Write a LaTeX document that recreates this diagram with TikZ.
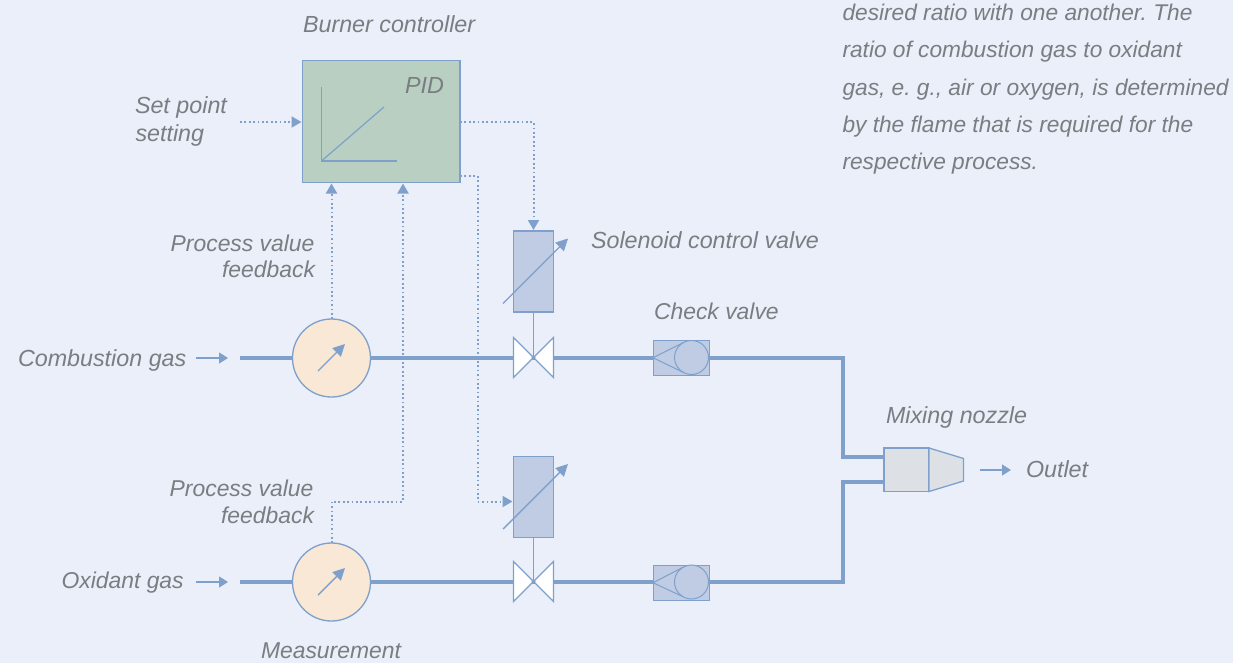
\documentclass[tikz,border=0pt]{standalone}
\usepackage{fontspec}
\setmainfont{Liberation Sans}
\usetikzlibrary{arrows.meta,calc}
\definecolor{bgc}{HTML}{EAEFF9}
\definecolor{linec}{HTML}{7FA0CB}
\definecolor{greenc}{HTML}{B8CFC2}
\definecolor{bluec}{HTML}{BFCCE3}
\definecolor{orangec}{HTML}{F9E8D5}
\definecolor{txtc}{HTML}{7A7D81}
\definecolor{grayc}{HTML}{DDE1E5}
\tikzset{
  lbl/.style={font=\fontsize{23.3}{28}\selectfont\itshape,text=txtc,inner sep=0,outer sep=0},
  lblb/.style={font=\fontsize{22.9}{28}\selectfont\itshape,text=txtc,inner sep=0,outer sep=0},
  para/.style={font=\fontsize{22.7}{28}\selectfont\itshape\frenchspacing,text=txtc,inner sep=0,outer sep=0},
  box/.style={draw=linec,line width=1.3pt,inner sep=0,outer sep=0,rectangle},
  ctrlbox/.style={box,fill=greenc,minimum width=157.5pt,minimum height=122pt},
  actbox/.style={box,fill=bluec,minimum width=40pt,minimum height=81pt},
  chkbox/.style={box,fill=bluec,line width=1pt,minimum width=56pt,minimum height=34.5pt},
  meter/.style={draw=linec,line width=1.3pt,fill=orangec,circle,inner sep=0,outer sep=0,minimum size=78pt},
  chkball/.style={draw=linec,line width=1pt,fill=bluec,circle,inner sep=0,outer sep=0,minimum size=34pt},
  thin line/.style={draw=linec,line width=1.2pt},
  pipe/.style={draw=linec,line width=4pt,line join=miter},
  sig/.style={draw=linec,line width=2pt,dash pattern=on 1.7pt off 2.7pt},
  tip/.style={-{Triangle[length=10pt,width=11pt,fill=linec]}},
  ptr/.style={thin line,line width=1.4pt,-{Triangle[length=12pt,width=12pt,fill=linec]}},
  flow/.style={thin line,-{Triangle[length=9pt,width=11pt,fill=linec]}},
  valvefill/.style={draw=linec,line width=1.2pt,fill=white,line join=miter},
  nozzle/.style={draw=linec,line width=1.3pt,fill=grayc,line join=miter},
}
\begin{document}
\begin{tikzpicture}[x=1pt,y=-1pt]
\useasboundingbox (0,0) rectangle (1233,663);
\fill[bgc] (0,0) rectangle (1233,663);

% named anchors
\coordinate (inA) at (240,357.5);
\coordinate (inB) at (240,581.5);
\coordinate (setp) at (240,122);
\coordinate (bendA) at (843,357.5);
\coordinate (bendB) at (843,581.5);
\coordinate (nozA) at (884,457);
\coordinate (nozB) at (884,482);
\coordinate (j1) at (533.5,122);
\coordinate (j2) at (477.5,176);
\coordinate (j3) at (477.5,501.5);
\coordinate (j4) at (331.5,501.5);
\coordinate (j5) at (403,501.5);
\coordinate (c2) at (403,182.5);
\coordinate (ctrlR2) at (460,176);
\coordinate (ctrlL) at (302.5,122);
\coordinate (ctrlR1) at (460,122);

% pipes
\draw[pipe] (inA) -- (bendA) -- (bendA |- nozA) -- (nozA);
\draw[pipe] (inB) -- (bendB) -- (bendB |- nozB) -- (nozB);

% nodes
\node[ctrlbox] (ctrl) at (381.25,121.5) {};
\node[meter] (m1) at (331.5,358) {};
\node[meter] (m2) at (331.5,582) {};
\node[actbox] (a1) at (533.5,271.5) {};
\node[actbox] (a2) at (533.5,497) {};
\node[chkbox] (k1) at (681,357.75) {};
\node[chkbox] (k2) at (681,582.75) {};

% PID graph
\coordinate (gO) at (321.5,161);
\draw[thin line] (321.5,87) -- (gO) -- (397,161);
\draw[thin line] (gO) -- (384,107);

% signal connectors
\draw[sig,tip,shorten >=1pt] (setp) -- (ctrlL);
\draw[sig,tip,shorten >=1pt] (ctrlR1) -- (j1) -- (a1.north);
\draw[sig,tip,shorten >=1pt] (ctrlR2) -- (j2) -- (j3) -- (a2.west |- j3);
\draw[sig,tip,shorten >=1pt] (m1.north) -- (m1.north |- ctrl.south);
\draw[sig,tip,shorten >=1pt] (m2.north) -- (j4) -- (j5) -- (c2);

% stems
\coordinate (v1) at (533.5,357.5);
\coordinate (v2) at (533.5,581.5);
% valves
\draw[valvefill] (v1) -- (513.5,337.5) -- (513.5,377.5) -- cycle;
\draw[valvefill] (v1) -- (553.5,337.5) -- (553.5,377.5) -- cycle;
\draw[valvefill] (v2) -- (513.5,561.5) -- (513.5,601.5) -- cycle;
\draw[valvefill] (v2) -- (553.5,561.5) -- (553.5,601.5) -- cycle;
\draw[thin line] (a1.south) -- (v1);
\draw[thin line] (a2.south) -- (v2);
\fill[linec] (v1) circle (2pt);
\fill[linec] (v2) circle (2pt);

% actuator adjust arrows
\draw[ptr] (503,303.5) -- (568,238.5);
\draw[ptr] (503,529) -- (568,464);
% meter pointers
\draw[ptr] (318,371) -- (345,344);
\draw[ptr] (318,595) -- (345,568);

% check valves
\node[chkball] (b1) at (691.5,357.5) {};
\node[chkball] (b2) at (691.5,582) {};
\draw[thin line,line width=1pt] (b1.120) -- (k1.west) -- (b1.240);
\draw[thin line,line width=1pt] (b2.120) -- (k2.west) -- (b2.240);

% nozzle
\draw[nozzle] (884,448) rectangle (929,491.5);
\draw[nozzle] (929,448) -- (963.5,458.5) -- (963.5,481) -- (929,491.5) -- cycle;

% flow arrows
\coordinate (f1a) at (196,358); \coordinate (f1b) at (228,358);
\coordinate (f2a) at (196,582); \coordinate (f2b) at (228,582);
\coordinate (f3a) at (980,470); \coordinate (f3b) at (1011,470);
\draw[flow] (f1a) -- (f1b);
\draw[flow] (f2a) -- (f2b);
\draw[flow] (f3a) -- (f3b);

% labels
\node[lbl,anchor=base west] (tBurner) at (303,32.7) {Burner controller};
\node[lbl,anchor=base east] (tPID) at (444,93.5) {PID};
\node[lbl,anchor=base west] (tSet1) at (135,114) {Set point};
\node[lbl,anchor=base west] (tSet2) at (135.5,141.7) {setting};
\node[lblb,anchor=base east] (tPv1) at (314.5,251) {Process value};
\node[lblb,anchor=base east] (tPv2) at (315,277) {feedback};
\node[lblb,anchor=base east] (tPv3) at (313.5,496) {Process value};
\node[lblb,anchor=base east] (tPv4) at (314,523) {feedback};
\node[lbl,anchor=base west] (tSol) at (591,248) {Solenoid control valve};
\node[lblb,anchor=base west] (tChk) at (654,319) {Check valve};
\node[lbl,anchor=base west] (tMix) at (886,423) {Mixing nozzle};
\node[lbl,anchor=base west] (tOut) at (1026,477) {Outlet};
\node[lbl,anchor=base west] (tCmb) at (18,366) {Combustion gas};
\node[lblb,anchor=base west] (tOxi) at (61.5,588.5) {Oxidant gas};
\node[lblb,anchor=base west] (tMea) at (261,658) {Measurement};
\node[para,anchor=base west] (p1) at (842.5,20.5) {desired ratio with one another. The};
\node[para,anchor=base west] (p2) at (842.5,58) {ratio of combustion gas to oxidant};
\node[para,anchor=base west] (p3) at (842.5,95.5) {gas, e. g., air or oxygen, is determined};
\node[para,anchor=base west] (p4) at (842.5,132.5) {by the flame that is required for the};
\node[para,anchor=base west] (p5) at (842.5,169.5) {respective process.};
\end{tikzpicture}
\end{document}
